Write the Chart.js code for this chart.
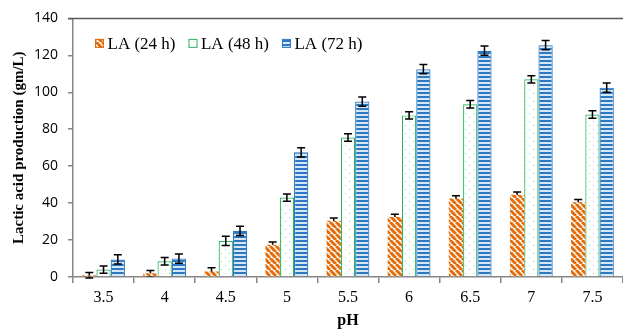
<!DOCTYPE html>
<html>
<head>
<meta charset="utf-8">
<script src="https://cdn.jsdelivr.net/npm/chart.js@4/dist/chart.umd.min.js"></script>
<style>
  html, body { margin: 0; padding: 0; background: #fff; }
  #wrap { width: 623px; height: 336px; }
</style>
</head>
<body>
<div id="wrap"><canvas id="laChart" width="623" height="336"></canvas></div>
<script>
// pH categories and lactic acid values (gm/L)
const phLabels = ['3.5', '4', '4.5', '5', '5.5', '6', '6.5', '7', '7.5'];
const la24 = [1, 2, 3, 17.5, 30.5, 32.5, 42.5, 44.5, 40.5];
const la48 = [4, 8.5, 19.5, 43, 75.5, 87.5, 93.5, 107, 88];
const la72 = [9.5, 10, 25, 67.5, 95, 112.5, 122.5, 125.5, 102.5];
const err24 = [1.5, 1.5, 2, 1.5, 1.5, 1.5, 1.5, 1.5, 1.5];
const err48 = [2, 2, 2.5, 2, 2, 2, 2, 2, 2];
const err72 = [2.5, 2.5, 2.5, 2.5, 2.5, 2.5, 2.5, 2.5, 2.5];
const yTicks = [0, 20, 40, 60, 80, 100, 120, 140];

const ORANGE = '#E46C0A';
const GREEN = '#2DB55D';
const BLUE = '#2E78C2';
const AXIS = '#868686';
const SERIF = '"Liberation Serif", "Times New Roman", serif';

// --- fill patterns ---
function makePattern(size, drawFn) {
    const c = document.createElement('canvas');
    c.width = size; c.height = size;
    const g = c.getContext('2d');
    g.fillStyle = '#fff';
    g.fillRect(0, 0, size, size);
    drawFn(g, size);
    return g.createPattern(c, 'repeat');
}

const stripeOrange = makePattern(6, (g, s) => {
    g.strokeStyle = ORANGE;
    g.lineWidth = 3;
    g.beginPath();
    for (let k = -1; k <= 1; k++) {
        g.moveTo(k * s, 0);
        g.lineTo(k * s + s, s);
    }
    g.stroke();
});

const dotsGreen = makePattern(8, (g) => {
    g.fillStyle = '#93DCAB';
    g.fillRect(1, 1, 1, 1);
    g.fillRect(5, 5, 1, 1);
});

const linesBlue = makePattern(4, (g) => {
    g.fillStyle = '#D6E7F7';
    g.fillRect(0, 0, 4, 4);
    g.fillStyle = BLUE;
    g.fillRect(0, 0, 4, 2);
});

const errorSets = [err24, err48, err72];

// error bars: 24 h drawn behind its bars, the others on top
function drawErrors(chart, which) {
    const ctx = chart.ctx;
    const y = chart.scales.y;
    ctx.save();
    ctx.strokeStyle = '#000';
    ctx.lineWidth = 1.5;
    which.forEach(di => {
        const meta = chart.getDatasetMeta(di);
        const vals = chart.data.datasets[di].data;
        meta.data.forEach((bar, i) => {
            const e = errorSets[di][i];
            const top = y.getPixelForValue(vals[i] + e);
            const bot = y.getPixelForValue(vals[i] - e);
            const x = bar.x;
            ctx.beginPath();
            ctx.moveTo(x, top); ctx.lineTo(x, bot);
            ctx.moveTo(x - 4, top); ctx.lineTo(x + 4, top);
            ctx.moveTo(x - 4, bot); ctx.lineTo(x + 4, bot);
            ctx.stroke();
        });
    });
    ctx.restore();
}

const errorBars = {
    id: 'errorBars',
    beforeDatasetsDraw(chart) { drawErrors(chart, [0]); },
    afterDatasetsDraw(chart) { drawErrors(chart, [1, 2]); }
};

// top frame line and the legend sitting inside the plot
const frameAndLegend = {
    id: 'frameAndLegend',
    afterDraw(chart) {
        const ctx = chart.ctx;
        const area = chart.chartArea;
        ctx.save();
        ctx.strokeStyle = '#595959';
        ctx.lineWidth = 1.5;
        ctx.beginPath();
        ctx.moveTo(area.left - 5, area.top);
        ctx.lineTo(area.right, area.top);
        ctx.stroke();

        ctx.font = '17px ' + SERIF;
        ctx.textBaseline = 'middle';
        ctx.fillStyle = '#000';
        let x = area.left + 22;
        const cy = area.top + 25;
        chart.data.datasets.forEach(ds => {
            ctx.fillStyle = ds.backgroundColor;
            ctx.fillRect(x, cy - 4.5, 9, 9);
            ctx.strokeStyle = ds.borderColor;
            ctx.lineWidth = 1;
            ctx.strokeRect(x + 0.5, cy - 4, 8, 8);
            ctx.fillStyle = '#000';
            ctx.fillText(ds.label, x + 12.5, cy + 1);
            x += 12.5 + ctx.measureText(ds.label).width + 13;
        });
        ctx.restore();
    }
};

new Chart(document.getElementById('laChart'), {
    type: 'bar',
    data: {
        labels: phLabels,
        datasets: [
            { label: 'LA (24 h)', data: la24, backgroundColor: stripeOrange, borderColor: ORANGE, borderWidth: 0 },
            { label: 'LA (48 h)', data: la48, backgroundColor: dotsGreen, borderColor: GREEN, borderWidth: 1.2 },
            { label: 'LA (72 h)', data: la72, backgroundColor: linesBlue, borderColor: BLUE, borderWidth: 1.2 }
        ]
    },
    options: {
        responsive: false,
        animation: false,
        devicePixelRatio: 1,
        layout: { padding: { top: 15, right: 0, left: 0, bottom: 0 } },
        datasets: { bar: { categoryPercentage: 0.7, barPercentage: 1.0 } },
        plugins: {
            tooltip: { enabled: false },
            legend: { display: false }
        },
        scales: {
            x: {
                border: { display: true, color: AXIS, width: 1.5 },
                grid: { display: true, drawOnChartArea: false, tickLength: 6, color: AXIS, lineWidth: 1.5 },
                ticks: {
                    color: '#000',
                    padding: 5,
                    font: { family: SERIF, size: 16 }
                },
                title: {
                    display: true,
                    text: 'pH',
                    color: '#000',
                    padding: { top: 0, bottom: 6 },
                    font: { family: SERIF, size: 16, weight: 'bold' }
                },
                afterFit(scale) { scale.height = 59; }
            },
            y: {
                min: 0,
                max: 140,
                border: { display: true, color: AXIS, width: 1.5 },
                afterBuildTicks(scale) { scale.ticks = yTicks.map(v => ({ value: v })); },
                grid: { drawOnChartArea: false, tickLength: 5, lineWidth: 1.5, color: AXIS },
                ticks: {
                    color: '#000',
                    padding: 10,
                    font: { family: '"Open Sans", "Liberation Sans", Arial, sans-serif', size: 14 }
                },
                title: {
                    display: true,
                    text: 'Lactic acid production (gm/L)',
                    color: '#000',
                    padding: { top: 10, bottom: 0 },
                    font: { family: SERIF, size: 15, weight: 'bold' }
                },
                afterFit(scale) { scale.width = 73; }
            }
        }
    },
    plugins: [errorBars, frameAndLegend]
});
</script>
</body>
</html>
